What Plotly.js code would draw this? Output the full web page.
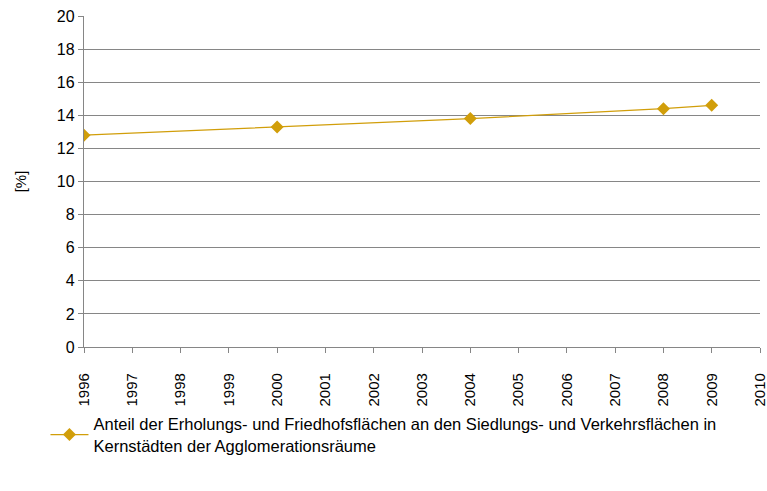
<!DOCTYPE html>
<html><head><meta charset="utf-8">
<script src="https://cdn.plot.ly/plotly-3.0.1.min.js"></script>
<style>html,body{margin:0;padding:0;background:#fff}#chart{width:767px;height:491px}</style>
</head><body><div id="chart"></div>
<script>
const years = [1996, 2000, 2004, 2008, 2009];
const values = [12.8, 13.3, 13.8, 14.4, 14.6];
const seriesName = "Anteil der Erholungs- und Friedhofsflächen an den Siedlungs- und Verkehrsflächen in<br>Kernstädten der Agglomerationsräume";
const yTitle = "[%]";
const xTicks = [1996,1997,1998,1999,2000,2001,2002,2003,2004,2005,2006,2007,2008,2009,2010];

const trace = {
  x: years, y: values, name: seriesName, type: 'scatter', mode: 'lines+markers',
  line: {color: '#D19E0A', width: 1.3},
  marker: {symbol: 'diamond', size: 10, color: '#D19E0A'}
};
const layout = {
  width: 767, height: 491,
  margin: {l: 84, r: 7, t: 16, b: 144},
  paper_bgcolor: '#fff', plot_bgcolor: '#fff',
  font: {family: 'Liberation Sans, Arial, sans-serif', color: '#000'},
  showlegend: true,
  legend: {x: -0.057, xref: 'paper', y: -0.18, yref: 'paper', xanchor: 'left', yanchor: 'top',
    font: {family: '"Liberation Sans Narrow", "Liberation Sans", sans-serif', size: 16.5, color: '#000'},
    itemwidth: 38, tracegroupgap: 0},
  xaxis: {range: [1995.9999, 2010.0001], tickvals: xTicks, ticktext: xTicks.map(String), tickangle: -90,
    showgrid: false, zeroline: false, showline: true, linecolor: '#868686', linewidth: 1.3,
    ticks: 'outside', ticklen: 5, tickcolor: '#868686', tickfont: {size: 15},
    ticklabelstandoff: 14, ticklabeloverflow: 'allow'},
  yaxis: {range: [0, 20], dtick: 2, showgrid: true, gridcolor: '#868686', gridwidth: 1.3,
    zeroline: false, showline: true, linecolor: '#868686', linewidth: 1.3,
    ticks: 'outside', ticklen: 5, tickcolor: '#868686', tickfont: {size: 16},
    title: {text: yTitle, font: {size: 15}, standoff: 26}}
};
Plotly.newPlot('chart', [trace], layout, {displayModeBar: false});
</script></body></html>
